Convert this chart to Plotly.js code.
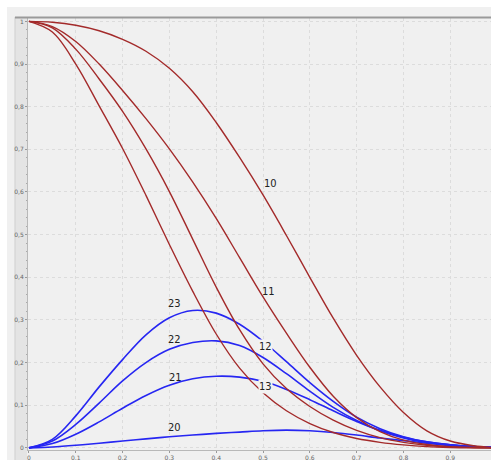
<!DOCTYPE html>
<html>
<head>
<meta charset="utf-8">
<script src="https://cdn.plot.ly/plotly-3.0.1.min.js"></script>
<style>html,body{margin:0;padding:0;background:#fff;}#chart{width:491px;height:460px;}</style>
</head>
<body>
<div id="chart"></div>
<script>
const xs = [0,0.05,0.1,0.15,0.2,0.25,0.3,0.35,0.4,0.45,0.5,0.55,0.6,0.65,0.7,0.75,0.8,0.85,0.9,0.95,1];
const y10 = [1,0.998,0.991,0.978,0.958,0.93,0.89,0.835,0.763,0.681,0.593,0.498,0.40,0.304,0.217,0.143,0.083,0.04,0.016,0.005,0];
const y11 = [1,0.988,0.953,0.90,0.838,0.772,0.701,0.623,0.538,0.446,0.354,0.269,0.189,0.121,0.071,0.038,0.018,0.008,0.003,0.001,0];
const y12 = [1,0.985,0.935,0.865,0.789,0.701,0.601,0.489,0.377,0.277,0.197,0.139,0.097,0.065,0.041,0.024,0.013,0.006,0.002,0.001,0];
const y13 = [1,0.975,0.90,0.802,0.702,0.592,0.477,0.367,0.267,0.187,0.129,0.087,0.057,0.036,0.022,0.013,0.007,0.003,0.001,0,0];
const y20 = [0,0.002,0.006,0.011,0.016,0.021,0.026,0.03,0.034,0.037,0.04,0.0415,0.04,0.036,0.03,0.023,0.017,0.011,0.007,0.003,0.001];
const y21 = [0,0.01,0.032,0.061,0.093,0.123,0.147,0.162,0.168,0.166,0.156,0.137,0.113,0.087,0.062,0.041,0.025,0.014,0.007,0.003,0.001];
const y22 = [0,0.016,0.055,0.105,0.157,0.2,0.231,0.247,0.251,0.24,0.212,0.174,0.133,0.095,0.064,0.04,0.023,0.012,0.005,0.002,0.001];
const y23 = [0,0.02,0.075,0.143,0.207,0.265,0.305,0.322,0.316,0.29,0.25,0.202,0.153,0.109,0.072,0.045,0.026,0.014,0.007,0.003,0.001];

const redSeries = [["10",y10],["11",y11],["12",y12],["13",y13]];
const blueSeries = [["20",y20],["21",y21],["22",y22],["23",y23]];

const labelNames = ["10","11","12","13","23","22","21","20"];
const labelX = [0.515,0.511,0.506,0.506,0.31,0.31,0.312,0.31];
const labelY = [0.621,0.366,0.237,0.145,0.338,0.253,0.166,0.047];
const labelBg = [false,false,true,true,false,false,false,false];

const RED = '#a32a2a', BLUE = '#2626f2';
const traces = [];
blueSeries.forEach(([n,y]) => traces.push({x:xs,y:y,name:n,mode:'lines',line:{color:BLUE,width:1.6,shape:'spline'},hoverinfo:'skip'}));
redSeries.forEach(([n,y]) => traces.push({x:xs,y:y,name:n,mode:'lines',line:{color:RED,width:1.4,shape:'spline'},hoverinfo:'skip'}));

const annotations = labelNames.map((t,i)=>({
  x:labelX[i], y:labelY[i], xref:'x', yref:'y', text:t, showarrow:false,
  font:{family:'Liberation Sans Narrow, DejaVu Sans Condensed, sans-serif', size:11, color:'#222'},
  bgcolor: labelBg[i] ? '#f2f2f2' : 'rgba(0,0,0,0)', borderpad:0
}));

const W = 491, H = 460, L = 28, R = 0, T = 18, B = 10;
const pw = W - L - R, ph = H - T - B;
const px = v => (v - L) / pw;
const py = v => 1 - (v - T) / ph;

const shapes = [
  {type:'rect', xref:'paper', yref:'paper', x0:px(7), x1:px(491), y0:py(460), y1:py(7), fillcolor:'#f0f0f0', line:{width:0}, layer:'below'},
  {type:'rect', xref:'paper', yref:'paper', x0:px(15), x1:px(27), y0:py(460), y1:py(17), fillcolor:'#e4e4e4', line:{width:0}, layer:'below'},
  {type:'line', xref:'paper', yref:'paper', x0:px(15), x1:px(15), y0:py(460), y1:py(17), line:{color:'#cfcfcf', width:1}, layer:'below'},
  {type:'line', xref:'paper', yref:'paper', x0:px(15), x1:1, y0:py(17.5), y1:py(17.5), line:{color:'#9a9a9a', width:2}}
];

const tickFont = {family:'DejaVu Sans, sans-serif', size:6, color:'#666'};
const layout = {
  width:W, height:H,
  margin:{l:L, r:R, t:T, b:B, pad:0},
  paper_bgcolor:'#ffffff', plot_bgcolor:'#f2f2f2',
  separators:', ',
  showlegend:false,
  xaxis:{range:[-0.002,0.987], dtick:0.1, tick0:0, showgrid:true, gridcolor:'#dcdcdc', griddash:'dot', gridwidth:1,
         zeroline:false, showline:true, linecolor:'#b8b8b8', ticks:'outside', ticklen:2, tickcolor:'#999',
         tickfont:tickFont, tickformat:'.1~f', fixedrange:true},
  yaxis:{range:[-0.005,1.008], dtick:0.1, tick0:0, showgrid:true, gridcolor:'#dcdcdc', griddash:'dot', gridwidth:1,
         zeroline:false, showline:true, linecolor:'#b8b8b8', ticks:'outside', ticklen:2, tickcolor:'#999',
         minor:{ticks:'outside', ticklen:1.5, dtick:0.02, tickcolor:'#aaa', showgrid:false},
         tickfont:tickFont, tickformat:'.1~f', fixedrange:true},
  shapes:shapes,
  annotations:annotations
};
Plotly.newPlot('chart', traces, layout, {displayModeBar:false, staticPlot:true});
</script>
</body>
</html>
